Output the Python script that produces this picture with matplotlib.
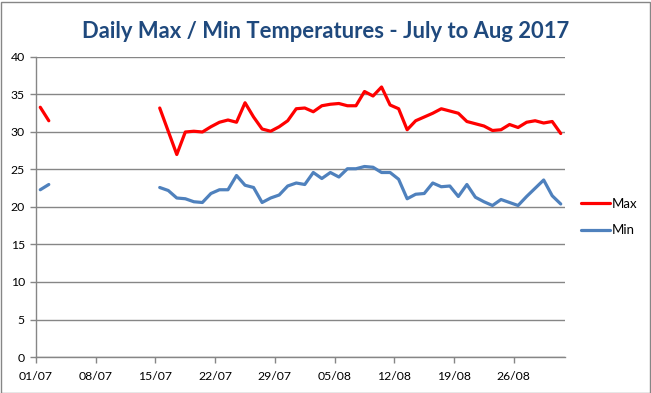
import numpy as np
import matplotlib
matplotlib.use("Agg")
import matplotlib.pyplot as plt
import matplotlib.dates as mdates
from matplotlib.patches import Rectangle

# --- Data ---
nan = np.nan
days = np.arange(np.datetime64("2017-07-01"), np.datetime64("2017-09-01"))

max_temp = [33.3, 31.5] + [nan] * 12 + [
    33.2, 30.1, 27.0, 30.0, 30.1, 30.0, 30.7, 31.3, 31.6, 31.3,
    33.9, 32.0, 30.4, 30.1, 30.7, 31.5, 33.1, 33.2, 32.7, 33.5,
    33.7, 33.8, 33.5, 33.5, 35.4, 34.8, 36.0, 33.6, 33.1, 30.3,
    31.5, 32.0, 32.5, 33.1, 32.8, 32.5, 31.4, 31.1, 30.8, 30.2,
    30.3, 31.0, 30.6, 31.3, 31.5, 31.2, 31.4, 29.8,
]
min_temp = [22.3, 23.0] + [nan] * 12 + [
    22.6, 22.2, 21.2, 21.1, 20.7, 20.6, 21.8, 22.3, 22.3, 24.2,
    22.9, 22.6, 20.6, 21.2, 21.6, 22.8, 23.2, 23.0, 24.6, 23.8,
    24.6, 24.0, 25.1, 25.1, 25.4, 25.3, 24.6, 24.6, 23.7, 21.1,
    21.7, 21.8, 23.2, 22.7, 22.8, 21.4, 23.0, 21.3, 20.7, 20.2,
    21.0, 20.6, 20.2, 21.4, 22.5, 23.6, 21.5, 20.4,
]

TITLE = "Daily Max / Min Temperatures - July to Aug 2017"

# --- Style ---
RED = "#FF0000"
BLUE = "#4F81BD"
GRID = "#868686"
TITLE_COLOR = "#1F497D"
FONT = "Lato"

fig = plt.figure(figsize=(6.51, 3.93), dpi=100)
ax = fig.add_axes([36 / 651, 36 / 393, 529 / 651, 300 / 393])

# points sit in the middle of each day slot (Excel "between tick marks")
x = days.astype("datetime64[h]") + np.timedelta64(12, "h")
x = x.astype("O")

ax.plot(x, max_temp, color=RED, linewidth=2.3, label="Max", solid_capstyle="round")
ax.plot(x, min_temp, color=BLUE, linewidth=2.3, label="Min", solid_capstyle="round")

ax.set_xlim(np.datetime64("2017-07-01").astype("O"), np.datetime64("2017-09-01").astype("O"))
ax.set_ylim(0, 40)
ax.set_yticks(np.arange(0, 41, 5))

tick_days = days[::7].astype("O")
ax.set_xticks(tick_days)
ax.xaxis.set_major_formatter(mdates.DateFormatter("%d/%m"))

ax.grid(True, axis="y", color=GRID, linewidth=1.0)
ax.set_axisbelow(True)
for side in ("top", "right"):
    ax.spines[side].set_visible(False)
for side in ("left", "bottom"):
    ax.spines[side].set_color(GRID)
    ax.spines[side].set_linewidth(1.0)

ax.tick_params(axis="both", colors=GRID, length=4, width=1.0, labelsize=8.8)
ax.tick_params(axis="x", pad=6)
ax.tick_params(axis="y", pad=4)
for lab in ax.get_xticklabels() + ax.get_yticklabels():
    lab.set_color("black")
    lab.set_fontfamily(FONT)

fig.text(0.5, 1 - 31 / 393, TITLE, ha="center", va="center",
         fontsize=15.8, fontweight="bold", color=TITLE_COLOR, family=FONT)

leg = fig.legend(loc="center left", bbox_to_anchor=(569 / 651, 1 - 217 / 393),
                 frameon=False, handlelength=2.2, handletextpad=0.15,
                 labelspacing=1.1, prop={"family": FONT, "size": 9.5})

# chart area border
fig.patches.append(Rectangle((0.5 / 651, 0.5 / 393), 649 / 651, 391 / 393,
                             transform=fig.transFigure, fill=False,
                             edgecolor=GRID, linewidth=1.0))

fig.savefig("out.png", dpi=100)
